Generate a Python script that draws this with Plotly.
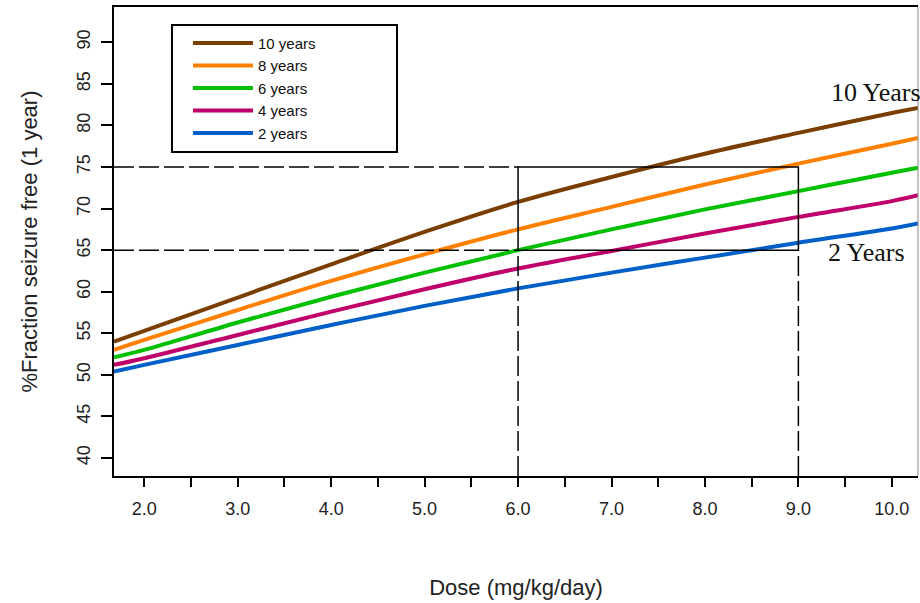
import plotly.graph_objects as go

# ---------------- data ----------------
dose = [1.676, 2, 3, 4, 5, 6, 7, 8, 9, 10, 10.28]
y10 = [54.0, 55.3, 59.3, 63.3, 67.2, 70.8, 73.8, 76.6, 79.1, 81.5, 82.1]
y8 = [53.0, 54.2, 57.8, 61.3, 64.5, 67.5, 70.2, 72.9, 75.4, 77.8, 78.5]
y6 = [52.1, 53.0, 56.3, 59.4, 62.3, 65.0, 67.5, 69.9, 72.1, 74.3, 74.9]
y4 = [51.2, 52.0, 54.8, 57.6, 60.3, 62.8, 64.9, 67.0, 69.0, 70.9, 71.6]
y2 = [50.4, 51.2, 53.6, 56.0, 58.3, 60.4, 62.3, 64.1, 65.9, 67.6, 68.2]

series_names = ["10 years", "8 years", "6 years", "4 years", "2 years"]
series_vals = [y10, y8, y6, y4, y2]
series_colors = ["#7a3e00", "#ff8000", "#00c000", "#c0006a", "#0060c8"]

box_x = [6, 9]        # dose window
box_y = [65, 75]      # seizure-free window

x_range = [1.676, 10.28]
y_range = [37.84, 94.24]
x_ticks = [2, 3, 4, 5, 6, 7, 8, 9, 10]
x_ticklabels = ["2.0", "3.0", "4.0", "5.0", "6.0", "7.0", "8.0", "9.0", "10.0"]
y_ticks = [40, 45, 50, 55, 60, 65, 70, 75, 80, 85, 90]

# ---------------- figure ----------------
fig = go.Figure()
for name, vals, col in zip(series_names, series_vals, series_colors):
    fig.add_trace(go.Scatter(x=dose, y=vals, mode="lines", name=name,
                             line=dict(color=col, width=4, shape="spline")))

dash = "20px,5px"
shapes = [
    # dashed horizontal guides
    dict(type="line", x0=x_range[0], x1=box_x[0], y0=box_y[1], y1=box_y[1],
         line=dict(color="black", width=1.5, dash=dash)),
    dict(type="line", x0=x_range[0], x1=box_x[0], y0=box_y[0], y1=box_y[0],
         line=dict(color="black", width=1.5, dash=dash)),
    # dashed vertical guides
    dict(type="line", x0=box_x[0], x1=box_x[0], y0=y_range[0], y1=box_y[0],
         line=dict(color="black", width=1.5, dash=dash)),
    dict(type="line", x0=box_x[1], x1=box_x[1], y0=y_range[0], y1=box_y[0],
         line=dict(color="black", width=1.5, dash=dash)),
    # solid window
    dict(type="rect", x0=box_x[0], x1=box_x[1], y0=box_y[0], y1=box_y[1],
         line=dict(color="black", width=1.5)),
    # right frame (grey)
    dict(type="line", xref="paper", yref="paper", x0=1, x1=1, y0=0, y1=1,
         line=dict(color="#888888", width=1)),
    # legend frame
    dict(type="rect", xref="paper", yref="paper", x0=0.0721, x1=0.352,
         y0=0.6908, y1=0.9616, line=dict(color="black", width=2)),
]

annotations = [
    dict(x=9.327, y=84.0, text="10 Years", showarrow=False, xanchor="left",
         yanchor="middle", font=dict(family="Liberation Serif", size=26, color="#111")),
    dict(x=9.292, y=64.67, text="2 Years", showarrow=False, xanchor="left",
         yanchor="middle", font=dict(family="Liberation Serif", size=26, color="#111")),
]

fig.update_layout(
    width=920, height=603,
    margin=dict(l=114, r=2, t=7, b=127),
    paper_bgcolor="white", plot_bgcolor="white",
    font=dict(family="Liberation Sans", color="#222"),
    shapes=shapes, annotations=annotations,
    showlegend=True,
    legend=dict(x=0.092, y=0.958, xanchor="left", yanchor="top",
                bgcolor="rgba(0,0,0,0)", borderwidth=0,
                font=dict(family="Liberation Sans", size=15, color="#111"),
                itemwidth=60, tracegroupgap=0),
)

fig.update_xaxes(
    range=x_range, tickvals=x_ticks, ticktext=x_ticklabels,
    ticks="outside", ticklen=9, tickwidth=2, tickcolor="black",
    minor=dict(dtick=0.5, tick0=2, ticks="outside", ticklen=9, tickwidth=2, tickcolor="black"),
    showline=True, linecolor="black", linewidth=2, mirror=True,
    showgrid=False, zeroline=False, ticklabelstandoff=6,
    tickfont=dict(family="Liberation Sans", size=18, color="#222"),
    title=dict(text="Dose (mg/kg/day)", standoff=62,
               font=dict(family="Liberation Sans", size=22, color="#222")),
)
fig.update_yaxes(
    range=y_range, tickvals=y_ticks, tickangle=-90,
    ticks="outside", ticklen=11, tickwidth=2, tickcolor="black",
    showline=True, linecolor="black", linewidth=2, mirror=False,
    showgrid=False, zeroline=False, ticklabelstandoff=4,
    tickfont=dict(family="Liberation Sans", size=18, color="#222"),
    title=dict(text="%Fraction seizure free (1 year)", standoff=30,
               font=dict(family="Liberation Sans", size=22, color="#222")),
)

fig.write_html("out.html")
